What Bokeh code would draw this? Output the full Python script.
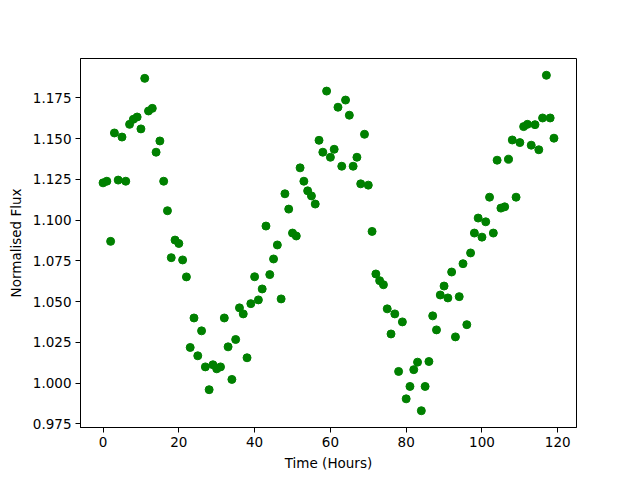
import numpy as np
from bokeh.plotting import figure
from bokeh.models import Range1d, FixedTicker, PrintfTickFormatter
from bokeh.embed import file_html
from bokeh.resources import INLINE

hours = list(range(120))
flux = [
    1.1229, 1.1239, 1.0870, 1.1535, 1.1246, 1.1510, 1.1239, 1.1588, 1.1619, 1.1633,
    1.1560, 1.1870, 1.1670, 1.1686, 1.1417, 1.1486, 1.1239, 1.1058, 1.0770, 1.0878,
    1.0857, 1.0756, 1.0652, 1.0219, 1.0400, 1.0168, 1.0321, 1.0100, 0.9960, 1.0113,
    1.0088, 1.0100, 1.0400, 1.0223, 1.0023, 1.0268, 1.0462, 1.0425, 1.0156, 1.0488,
    1.0653, 1.0511, 1.0578, 1.0964, 1.0666, 1.0762, 1.0848, 1.0517, 1.1162, 1.1068,
    1.0921, 1.0903, 1.1321, 1.1239, 1.1180, 1.1149, 1.1099, 1.1490, 1.1417, 1.1792,
    1.1386, 1.1435, 1.1693, 1.1331, 1.1737, 1.1644, 1.1331, 1.1386, 1.1223, 1.1527,
    1.1215, 1.0931, 1.0670, 1.0629, 1.0604, 1.0456, 1.0302, 1.0425, 1.0072, 1.0376,
    0.9904, 0.9980, 1.0083, 1.0129, 0.9831, 0.9980, 1.0133, 1.0413, 1.0327, 1.0541,
    1.0596, 1.0523, 1.0682, 1.0284, 1.0531, 1.0733, 1.0359, 1.0799, 1.0921, 1.1013,
    1.0896, 1.0990, 1.1141, 1.0921, 1.1368, 1.1074, 1.1082, 1.1374, 1.1492, 1.1141,
    1.1476, 1.1574, 1.1588, 1.1460, 1.1586, 1.1432, 1.1627, 1.1889, 1.1627, 1.1503,
]
x_ticks = [0, 20, 40, 60, 80, 100, 120]
y_ticks = [0.975, 1.000, 1.025, 1.050, 1.075, 1.100, 1.125, 1.150, 1.175]

xmin, xmax = min(hours), max(hours)
ymin, ymax = min(flux), max(flux)
xm = 0.05 * (xmax - xmin)
ym = 0.05 * (ymax - ymin)

p = figure(width=640, height=480, output_backend="svg", toolbar_location=None,
           x_range=Range1d(xmin - xm, xmax + xm), y_range=Range1d(ymin - ym, ymax + ym),
           min_border_left=80, min_border_right=64, min_border_top=58, min_border_bottom=53)

p.scatter(hours, flux, size=8.0, color="#008000", line_color="#008000")

p.grid.visible = False
p.outline_line_color = "black"
p.outline_line_width = 1
p.outline_line_alpha = 1

font = "DejaVu Sans"
for ax in (p.xaxis[0], p.yaxis[0]):
    ax.axis_line_color = "black"
    ax.major_tick_line_color = "black"
    ax.major_tick_out = 5
    ax.major_tick_in = 0
    ax.minor_tick_line_color = None
    ax.major_label_text_font = font
    ax.major_label_text_font_size = "13.5px"
    ax.major_label_text_color = "black"
    ax.axis_label_text_font = font
    ax.axis_label_text_font_size = "13.5px"
    ax.axis_label_text_font_style = "normal"
    ax.axis_label_text_color = "black"
    ax.major_label_standoff = 4

p.xaxis.ticker = FixedTicker(ticks=x_ticks)
p.yaxis.ticker = FixedTicker(ticks=y_ticks)
p.yaxis.formatter = PrintfTickFormatter(format="%.3f")
p.xaxis.axis_label = "Time (Hours)"
p.yaxis.axis_label = "Normalised Flux"
p.xaxis.axis_label_standoff = 5
p.yaxis.axis_label_standoff = 6

open("out.html", "w").write(file_html(p, INLINE))
